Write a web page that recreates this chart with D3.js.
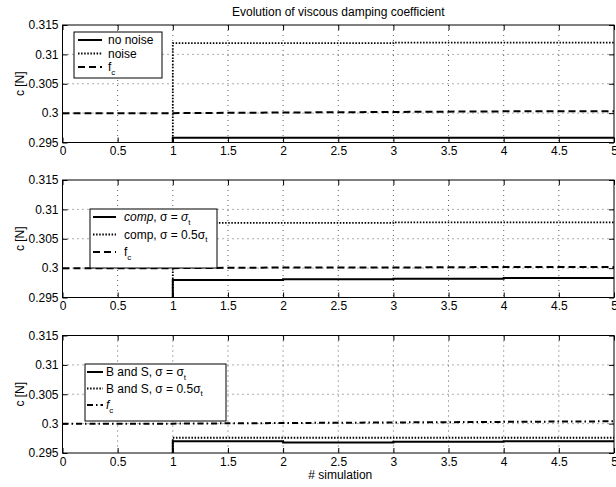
<!DOCTYPE html>
<html><head><meta charset="utf-8">
<script src="https://cdn.jsdelivr.net/npm/d3@7"></script>
<style>body{margin:0;background:#fff}svg{display:block;font-family:Arial,"Liberation Sans",sans-serif}</style>
</head><body><svg id="c" width="616" height="487"></svg>
<script>
// ---- data ----
const simX = [0, 1, 2, 3, 4, 5];
const xTicks = [0, 0.5, 1, 1.5, 2, 2.5, 3, 3.5, 4, 4.5, 5];
const xTickLabels = ["0","0.5","1","1.5","2","2.5","3","3.5","4","4.5","5"];
const yTicks = [0.295, 0.3, 0.305, 0.31, 0.315];
const yTickLabels = ["0.295","0.3","0.305","0.31","0.315"];
// panel 1
const noNoise   = [0.290, 0.2958, 0.2958, 0.2958, 0.2958, 0.2958];
const noise     = [0.290, 0.3119, 0.3119, 0.3120, 0.3120, 0.3120];
const fc1       = [0.3000, 0.3000, 0.3001, 0.3002, 0.3003, 0.3003];
// panel 2
const comp1     = [0.290, 0.2980, 0.2981, 0.2982, 0.2983, 0.2984];
const comp05    = [0.290, 0.3077, 0.3077, 0.3078, 0.3078, 0.3078];
const fc2       = [0.3000, 0.3000, 0.3001, 0.3001, 0.3002, 0.3002];
// panel 3
const bs1       = [0.290, 0.2970, 0.2968, 0.2969, 0.2970, 0.2970];
const bs05      = [0.290, 0.2976, 0.2976, 0.2976, 0.2976, 0.2976];
const fc3       = [0.3000, 0.3000, 0.3001, 0.3002, 0.3003, 0.3004];

const title = "Evolution of viscous damping coefficient";
const yLabel = "c [N]";
const xLabel = "# simulation";

// ---- styles ----
const FS = 12;
const STY = {
  solid:   {dash: null, w: 2},
  dotted:  {dash: "1.5,1.6", w: 1.8},
  dashed:  {dash: "7,4", w: 2},
  dashdot: {dash: "6,3,1.5,3", w: 2}
};

const panels = [
  {top: 25, series: [
    {v: noNoise, s: "solid", step: true, label: [{t:"no noise"}]},
    {v: noise, s: "dotted", step: true, label: [{t:"noise"}]},
    {v: fc1, s: "dashed", step: false, label: [{t:"f"},{t:"c", sub:true}]}
   ], legend: {x: 74, y: 32, w: 88, h: 46, row: 13.5, sx: 78, sw: 24, tx: 108}},
  {top: 180, series: [
    {v: comp1, s: "solid", step: true, label: [{t:"comp", it:true},{t:", σ = "},{t:"σ", it:true},{t:"t", sub:true}]},
    {v: comp05, s: "dotted", step: true, label: [{t:"comp, σ = 0.5σ"},{t:"t", sub:true}]},
    {v: fc2, s: "dashed", step: false, label: [{t:"f"},{t:"c", sub:true}]}
   ], legend: {x: 90, y: 209, w: 127, h: 59, row: 17.5, sx: 93, sw: 23, tx: 124}},
  {top: 335.5, series: [
    {v: bs1, s: "solid", step: true, label: [{t:"B and S, σ = σ"},{t:"t", sub:true}]},
    {v: bs05, s: "dotted", step: true, label: [{t:"B and S, σ = 0.5σ"},{t:"t", sub:true}]},
    {v: fc3, s: "dashdot", step: false, label: [{t:"f", it:true},{t:"c", sub:true}]}
   ], legend: {x: 85, y: 364, w: 141, h: 57, row: 16.5, sx: 87, sw: 16, tx: 106}}
];

const svg = d3.select("#c");
const L = 62.5, R = 614, H = 117.5;
const x = d3.scaleLinear().domain([0, 5]).range([L, R]);

svg.append("text").attr("x", (L+R)/2).attr("y", 16).attr("text-anchor","middle")
  .attr("font-size", FS).text(title);

panels.forEach((p, pi) => {
  const y = d3.scaleLinear().domain([0.295, 0.315]).range([p.top + H, p.top]);
  const g = svg.append("g");
  const cid = "clip" + pi;
  svg.append("clipPath").attr("id", cid).append("rect")
    .attr("x", L).attr("y", p.top).attr("width", R - L).attr("height", H);

  // grid
  const grid = g.append("g").attr("stroke", "#333").attr("stroke-width", 0.8).attr("stroke-dasharray", "1,4");
  xTicks.slice(1, -1).forEach(t => grid.append("line").attr("x1", x(t)).attr("x2", x(t)).attr("y1", p.top).attr("y2", p.top + H));
  yTicks.slice(1, -1).forEach(t => grid.append("line").attr("x1", L).attr("x2", R).attr("y1", y(t)).attr("y2", y(t)));

  // axes (ticks inward)
  const ax = d3.axisBottom(x).tickValues(xTicks).tickSize(-5).tickPadding(4)
    .tickFormat((d, i) => xTickLabels[i]);
  const axG = g.append("g").attr("transform", `translate(0,${p.top + H})`).call(ax);
  const axT = g.append("g").attr("transform", `translate(0,${p.top})`).call(d3.axisTop(x).tickValues(xTicks).tickSize(-5).tickFormat(""));
  const ay = d3.axisLeft(y).tickValues(yTicks).tickSize(-5).tickPadding(4)
    .tickFormat((d, i) => yTickLabels[i]);
  const ayG = g.append("g").attr("transform", `translate(${L},0)`).call(ay);
  const ayR = g.append("g").attr("transform", `translate(${R},0)`).call(d3.axisRight(y).tickValues(yTicks).tickSize(-5).tickFormat(""));
  [axG, axT, ayG, ayR].forEach(a => {
    a.select(".domain").remove();
    a.selectAll("line").attr("stroke", "#000");
    a.selectAll("text").attr("font-size", FS).attr("font-family", "Arial, 'Liberation Sans', sans-serif").attr("fill", "#000");
  });

  // series
  const dg = g.append("g").attr("clip-path", `url(#${cid})`);
  p.series.forEach(s => {
    const line = d3.line().x((d, i) => x(simX[i])).y(d => y(d))
      .curve(s.step ? d3.curveStepAfter : d3.curveLinear);
    const st = STY[s.s];
    dg.append("path").attr("d", line(s.v)).attr("fill", "none").attr("stroke", "#000")
      .attr("stroke-width", st.w).attr("stroke-dasharray", st.dash);
  });

  // frame
  g.append("rect").attr("x", L).attr("y", p.top).attr("width", R - L).attr("height", H)
    .attr("fill", "none").attr("stroke", "#000").attr("stroke-width", 1);

  // y label
  g.append("text").attr("transform", `translate(24,${p.top + H/2}) rotate(-90)`)
    .attr("text-anchor", "middle").attr("font-size", FS).text(yLabel);

  // legend
  const lg = p.legend;
  const leg = g.append("g");
  leg.append("rect").attr("x", lg.x).attr("y", lg.y).attr("width", lg.w).attr("height", lg.h)
    .attr("fill", "#fff").attr("stroke", "#000").attr("stroke-width", 1);
  p.series.forEach((s, i) => {
    const cy = lg.y + 8 + i * lg.row;
    const st = STY[s.s];
    leg.append("line").attr("x1", lg.sx).attr("x2", lg.sx + lg.sw).attr("y1", cy).attr("y2", cy)
      .attr("stroke", "#000").attr("stroke-width", st.w).attr("stroke-dasharray", st.dash);
    const t = leg.append("text").attr("x", lg.tx).attr("y", cy + 4).attr("font-size", FS);
    s.label.forEach(part => {
      const ts = t.append("tspan").text(part.t);
      if (part.it) ts.attr("font-style", "italic");
      if (part.sub) ts.attr("dy", 3.5).attr("font-size", 8);
    });
  });
});

svg.append("text").attr("x", (L+R)/2 + 2).attr("y", 479).attr("text-anchor","middle")
  .attr("font-size", FS).text(xLabel);
</script></body></html>
